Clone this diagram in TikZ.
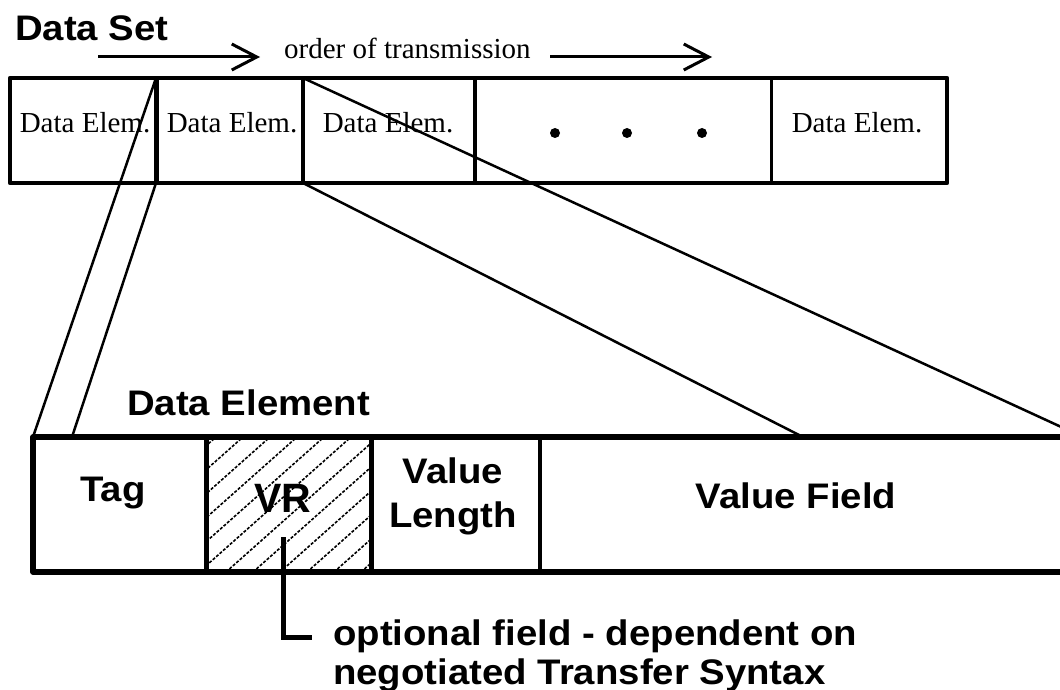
\documentclass[tikz,border=0pt]{standalone}
\usepackage{fontspec}
\setmainfont{Liberation Serif}
\setsansfont{Liberation Sans}
\usetikzlibrary{arrows.meta}
\newcommand\xsw[1]{\scalebox{1.08}[1]{#1}}
\begin{document}
\begin{tikzpicture}[x=1pt,y=-1pt,
  serif/.style={font=\fontsize{29}{30}\selectfont, inner sep=0pt},
  bsans/.style={font=\fontsize{35.5}{44}\selectfont\sffamily\bfseries, inner sep=0pt},
  topframe/.style={line width=4.5pt, line join=round},
  botframe/.style={line width=5.5pt, line join=round},
  conn/.style={line width=2.5pt},
  orderarrow/.style={line width=3pt, -{Straight Barb[length=25pt,width=26pt,line width=3pt]}},
  hatchline/.style={line width=1.6pt, dash pattern=on 3pt off 1.6pt},
  pointer/.style={line width=5pt}]
\useasboundingbox (0,0) rectangle (1060,690);
\clip (0,0) rectangle (1060,690);

% ---- named points
\coordinate (d1t) at (156,78);  \coordinate (d1b) at (156,183);
\coordinate (d2t) at (303,78);  \coordinate (d2b) at (303,183);
\coordinate (bl)  at (33,437);  \coordinate (b2)  at (72,437);
\coordinate (bvf) at (803,437); \coordinate (btr) at (1083,437);
\coordinate (a1s) at (98,57);   \coordinate (a1e) at (260,57);
\coordinate (a2s) at (550,57);  \coordinate (a2e) at (712,57);
\coordinate (vrp) at (283,537); \coordinate (vrc) at (283,637); \coordinate (vre) at (312,637);

% ---- titles
\node[bsans, anchor=base west] (dataset) at (15,41) {\xsw{Data Set}};
\node[serif, anchor=base west] (order) at (284,59) {order of transmission};
\draw[orderarrow] (a1s) -- (a1e);
\draw[orderarrow] (a2s) -- (a2e);

% ---- connectors
\draw[conn] (d1t) -- (bl);
\draw[conn] (d1b) -- (b2);
\draw[conn] (d2t) -- (btr);
\draw[conn] (d2b) -- (bvf);

% ---- top data set box
\node[serif, anchor=base] (e1) at (85,133) {Data Elem.};
\node[serif, anchor=base] (e2) at (232,133) {Data Elem.};
\node[serif, anchor=base] (e3) at (388,133) {Data Elem.};
\node[serif, anchor=base] (e5) at (857,133) {Data Elem.};
\fill (555,133) circle (5);
\fill (627,133) circle (5);
\fill (702,133) circle (5);
\draw[topframe] (10,78) rectangle (947,183);
\draw[line width=5pt] (d1t) -- (d1b);
\draw[line width=3.5pt] (d2t) -- (d2b);
\draw[line width=4.5pt] (475,78) -- (475,183);
\draw[line width=3pt] (771,78) -- (771,183);

% ---- data element box
\node[bsans, anchor=base west] (delem) at (127,415) {\xsw{Data Element}};
\begin{scope}
  \clip (206,437) rectangle (371,572);
  \foreach \k in {-6,...,6}
    \draw[hatchline] (199+\k*27,572) -- ++(152,-135);
\end{scope}
\node[bsans, anchor=base] (tag) at (113,501) {\xsw{Tag}};
\node[bsans, font=\fontsize{41}{44}\selectfont\sffamily\bfseries, anchor=base] (vr) at (283,512) {VR};
\node[bsans, anchor=base] (vl1) at (453,483) {\xsw{Value}};
\node[bsans, anchor=base] (vl2) at (453,527) {\xsw{Length}};
\node[bsans, anchor=base] (vf) at (796,508) {\xsw{Value Field}};
\draw[botframe] (33,437) rectangle (1083,572);
\draw[line width=5pt] (206,437) -- (206,572);
\draw[line width=5pt] (371,437) -- (371,572);
\draw[line width=3.5pt] (540,437) -- (540,572);

% ---- optional field note
\draw[pointer] (vrp) -- (vrc) -- (vre);
\node[bsans, anchor=base west] (opt1) at (333,645) {\xsw{optional field - dependent on}};
\node[bsans, anchor=base west] (opt2) at (333,684) {\xsw{negotiated Transfer Syntax}};
\end{tikzpicture}
\end{document}
